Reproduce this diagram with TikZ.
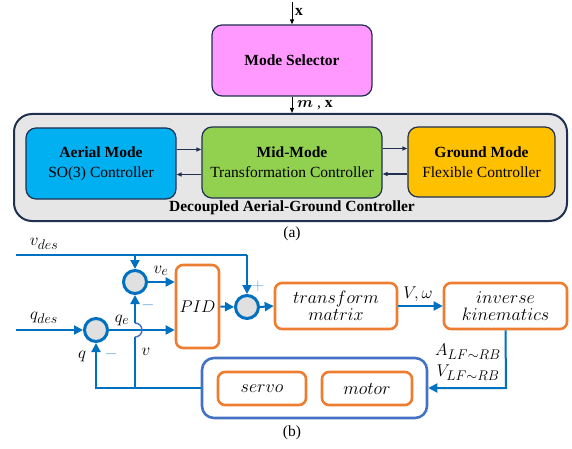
\RequirePackage{fix-cm}
\documentclass[tikz,border=0pt]{standalone}
\usepackage{amsmath,amssymb}
\usepackage{bm}
\usepackage{fontspec}
\setmainfont{Liberation Serif}
\usetikzlibrary{arrows.meta,positioning,calc}
\DeclareMathSizes{18}{18}{14.5}{11}
\DeclareMathSizes{17}{17}{14}{10}

\definecolor{selpink}{HTML}{FF99FF}
\definecolor{aerblue}{HTML}{00B0F0}
\definecolor{midgreen}{HTML}{92D050}
\definecolor{gndgold}{HTML}{FFC000}
\definecolor{framenavy}{HTML}{1F3050}
\definecolor{outergray}{HTML}{E7E6E6}
\definecolor{sigblue}{HTML}{0070C0}
\definecolor{ctrlorange}{HTML}{ED7D31}
\definecolor{plantblue}{HTML}{4472C4}
\definecolor{sumgray}{HTML}{E0E0E0}
\definecolor{signblue}{HTML}{5B9BD5}

\tikzset{
  modebox/.style={draw=framenavy, line width=1.2pt, rounded corners=10pt, align=center,
    font=\fontsize{15.5}{20}\selectfont},
  outerbox/.style={draw=framenavy, fill=outergray, line width=2pt, rounded corners=18pt},
  lnkblack/.style={-{Triangle[length=5pt,width=4pt]}, line width=1pt},
  lnknavy/.style={-{Triangle[length=5pt,width=4pt]}, draw=framenavy, line width=1.2pt},
  sig/.style={-{Triangle[length=9pt,width=9pt]}, draw=sigblue, line width=2pt},
  sumnode/.style={circle, draw=sigblue, fill=sumgray, line width=3pt, minimum size=23pt, inner sep=0pt},
  ctrlbox/.style={draw=ctrlorange, line width=2.6pt, rounded corners=7pt, fill=white, align=center,
    font=\fontsize{18}{20}\selectfont},
  plantbox/.style={draw=plantblue, line width=2.6pt, rounded corners=12pt},
  lbl/.style={font=\fontsize{17}{19}\selectfont},
  sgn/.style={text=signblue, font=\fontsize{17}{19}\selectfont}
}

\begin{document}
\begin{tikzpicture}[x=1pt,y=-1pt]
    \useasboundingbox (0,0) rectangle (572,449);

    % (a) Mode selector
    \node[modebox, fill=selpink, minimum width=160pt, minimum height=71pt] (sel) at (292,60.5) {\textbf{Mode Selector}};
    \coordinate (xin) at (292,2);
    \draw[lnkblack] (xin) -- (sel.north);
    \node[right, inner sep=1pt, font=\fontsize{15.5}{19}\selectfont] (xlbl) at (294,12) {\textbf{x}};

    % Decoupled controller
    \node[outerbox, minimum width=553pt, minimum height=107pt] (dec) at (290.5,167.5) {};
    \draw[lnkblack] (sel.south) -- (sel.south |- dec.north);
    \node[right, inner sep=1pt, font=\fontsize{15.5}{19}\selectfont] (mxlbl) at (296,105) {$\bm{m}$ , \textbf{x}};

    \node[modebox, fill=aerblue, minimum width=150pt, minimum height=71pt] (aer) at (101,163.5) {\textbf{Aerial Mode}\\SO(3) Controller};
    \node[modebox, fill=midgreen, minimum width=180pt, minimum height=71pt] (mid) at (292,162.5) {\textbf{Mid-Mode}\\Transformation Controller};
    \node[modebox, fill=gndgold, minimum width=147pt, minimum height=70pt] (gnd) at (481.5,162) {\textbf{Ground Mode}\\Flexible Controller};

    \draw[lnknavy] ([yshift=14pt]aer.east) -- ([yshift=14pt]aer.east -| mid.west);
    \draw[lnknavy] ([yshift=-12pt]mid.west) -- ([yshift=-12pt]mid.west -| aer.east);
    \draw[lnknavy] ([yshift=14pt]mid.east) -- ([yshift=14pt]mid.east -| gnd.west);
    \draw[lnknavy] ([yshift=-12pt]gnd.west) -- ([yshift=-12pt]gnd.west -| mid.east);

    \node[font=\fontsize{15.5}{19}\selectfont] (declbl) at (292,208) {\textbf{Decoupled Aerial-Ground Controller}};
    \node[font=\fontsize{15.5}{19}\selectfont] (capa) at (292,234) {(a)};

    % (b) control loop
    \node[sumnode] (vsum) at (135,282) {};
    \node[sumnode] (qsum) at (96,330) {};
    \node[sumnode] (psum) at (247,307) {};
    \node[ctrlbox, minimum width=43pt, minimum height=83pt, font=\fontsize{17}{20}\selectfont] (pid) at (197.5,306.5) {$PID$};
    \node[ctrlbox, minimum width=122pt, minimum height=46pt] (trans) at (336,306) {$transform$\\[-3pt]$matrix$};
    \node[ctrlbox, minimum width=123pt, minimum height=46pt] (inv) at (505.5,306) {$inverse$\\[-3pt]$kinematics$};
    \node[plantbox, minimum width=225pt, minimum height=60pt] (plant) at (314.5,388) {};
    \node[ctrlbox, minimum width=88pt, minimum height=33pt] (servo) at (262,388.5) {$servo$};
    \node[ctrlbox, minimum width=90pt, minimum height=33pt] (motor) at (367,388.5) {$motor$};

    % inputs
    \coordinate (vin) at (16,255);
    \coordinate (qin) at (16,330);
    \coordinate (vbr) at (135,255);
    \coordinate (vtop) at (247,255);
    \draw[sig, -] (vin) -- (vtop);
    \draw[sig] (vtop) -- (psum.north);
    \draw[sig] (vbr) -- (vsum.north);
    \draw[sig] (qin) -- (qsum.west);

    % forward path
    \draw[sig] (vsum.east) -- (vsum.east -| pid.west);
    \draw[sig] (qsum.east) -- (qsum.east -| pid.west);
    \draw[sig] (pid.east) -- (psum.west);
    \draw[sig] (psum.east) -- (trans.west);
    \draw[sig] (trans.east) -- (inv.west);
    \coordinate (invdn) at (506,388);
    \draw[sig] (inv.south) -- (invdn) -- (plant.east);

    % feedback
    \coordinate (fbq) at (96,388);
    \coordinate (fbv) at (135,388);
    \coordinate (hop) at (135,337);
    \draw[sig] (plant.west) -- (fbq) -- (qsum.south);
    \draw[sig, -] (fbv) -- (hop);
    \draw[plantblue, line width=1.5pt] (hop) arc[start angle=-90, end angle=90, radius=7pt];
    \draw[sig] (135,323) -- (vsum.south);

    % labels
    \node[lbl] (vdes) at (44,244) {$v_{des}$};
    \node[lbl] (qdes) at (44,318) {$q_{des}$};
    \node[lbl] (velbl) at (161,271) {$v_e$};
    \node[lbl] (qelbl) at (122,320) {$q_e$};
    \node[lbl] (qlbl) at (82,356) {$q$};
    \node[lbl] (vlbl) at (146,352) {$v$};
    \node[sgn] (vminus) at (148,305) {$-$};
    \node[sgn] (qminus) at (111,354) {$-$};
    \node[sgn] (pplus) at (258,286) {$+$};
    \node[lbl] (vwlbl) at (418,294) {$V,\omega$};
    \node[lbl] (albl) at (468,352) {$A_{LF\sim RB}$};
    \node[lbl] (vlfbl) at (468,373) {$V_{LF\sim RB}$};
    \node[font=\fontsize{15.5}{19}\selectfont] (capb) at (292,433) {(b)};
\end{tikzpicture}
\end{document}
